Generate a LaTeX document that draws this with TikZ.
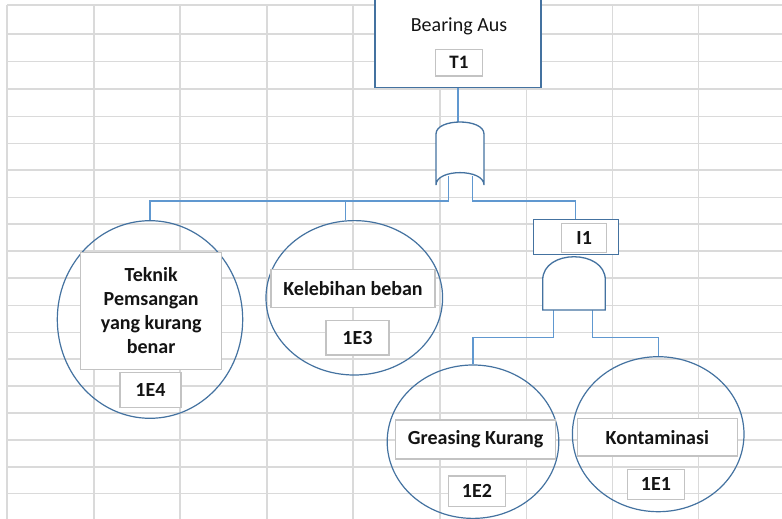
\documentclass[tikz,border=0pt]{standalone}
\usepackage{fontspec}
\setmainfont{Carlito}
\usetikzlibrary{shapes.geometric}
\definecolor{gridgray}{RGB}{218,218,218}
\definecolor{shapeblue}{RGB}{68,114,160}
\definecolor{wireblue}{RGB}{96,152,208}
\definecolor{boxgray}{RGB}{195,195,195}
\definecolor{ink}{RGB}{20,20,20}
\tikzset{
  gridline/.style={draw=gridgray, line width=1.6pt},
  event/.style={ellipse, draw=shapeblue, line width=1.2pt, inner sep=0pt},
  wire/.style={draw=wireblue, line width=1.3pt},
  frame/.style={rectangle, draw=shapeblue, line width=1.5pt, fill=white, inner sep=0pt},
  textbox/.style={rectangle, draw=boxgray, line width=1.3pt, fill=white, inner sep=0pt,
    align=center, text=ink, font=\bfseries\fontsize{20}{24}\selectfont},
  idbox/.style={rectangle, draw=boxgray, line width=1.3pt, fill=white, inner sep=0pt,
    text=ink, font=\bfseries\fontsize{20}{22}\selectfont},
  gate/.style={draw=shapeblue, line width=1.3pt, fill=white},
}
\begin{document}
\begin{tikzpicture}[x=1pt, y=-1pt]
\useasboundingbox (0,0) rectangle (782,519);
\fill[white] (0,0) rectangle (782,519);

% worksheet grid
\foreach \gx in {7,94,180,267,353,440,526.5,612.3,698.3}
  \draw[gridline] (\gx,5) -- (\gx,519);
\foreach \gy in {5,34.3,61.7,89,116.3,143.3,170,197.3,224,250.7,278,305.5,332.3,359,385.7,413,440,466.7,493.3}
  \draw[gridline] (7,\gy) -- (782,\gy);

% basic events
\node[event, minimum width=185.4pt, minimum height=197.6pt] (c4) at (150,319.5) {};
\node[event, minimum width=176.6pt, minimum height=154.4pt] (c3) at (354.3,297.8) {};
\node[event, minimum width=171.6pt, minimum height=153.4pt] (c2) at (473,441.7) {};
\node[event, minimum width=171.6pt, minimum height=155pt] (c1) at (658.2,434.2) {};

% top event
\node[frame, minimum width=165.7pt, minimum height=92pt] (top) at (458,41.3) {};
\node[text=ink, font=\fontsize{20}{22}\selectfont] (toptxt) at (459,26) {Bearing Aus};
\node[idbox, minimum width=46.6pt, minimum height=26.7pt, font=\bfseries\fontsize{19}{20}\selectfont] (t1) at (459,62.7) {T1};

% OR gate
\coordinate (or-top) at (458,122);
\coordinate (or-l) at (448.3,176);
\coordinate (or-r) at (472.7,176);
\coordinate (j1) at (448.3,201);
\coordinate (j2) at (472.7,201);
\coordinate (j3) at (345.7,201);

% intermediate event
\node[frame, minimum width=85pt, minimum height=35pt] (i1frame) at (575.8,236.8) {};

% AND gate
\coordinate (and-l) at (553.3,310);
\coordinate (and-r) at (592.3,310);
\coordinate (j4) at (553.3,337.5);
\coordinate (j5) at (592.3,337.5);

% connectors
\draw[wire] (top.south) -- (or-top);
\draw[wire] (or-l) -- (j1) -| (c4.north);
\draw[wire] (j3) -- (j3 |- c3.north);
\draw[wire] (or-r) -- (j2) -| (i1frame.north);
\draw[wire] (and-l) -- (j4) -| (c2.north);
\draw[wire] (and-r) -- (j5) -| (c1.north);

% gate bodies
\draw[gate] (436,134) .. controls (436,118) and (484,118) .. (484,134)
  -- (484,185) .. controls (484,168.5) and (436,168.5) .. (436,185) -- cycle;
\draw[gate] (542.7,310) -- (542.7,280)
  .. controls (542.7,249) and (605.3,249) .. (605.3,280) -- (605.3,310) -- cycle;

\node[idbox, minimum width=45pt, minimum height=29pt] (i1) at (584.2,237.8) {I1};

% event descriptions and identifiers
\node[textbox, minimum width=141pt, minimum height=116.6pt] (d4) at (151.2,311)
  {Teknik\\Pemsangan\\yang kurang\\benar};
\node[idbox, minimum width=61pt, minimum height=34.6pt] (e4) at (150.5,390) {1E4};
\node[textbox, minimum width=164pt, minimum height=38pt] (d3) at (353,288.3) {Kelebihan beban};
\node[idbox, minimum width=63pt, minimum height=34.3pt] (e3) at (357.5,337.8) {1E3};
\node[textbox, minimum width=160pt, minimum height=39pt] (d2) at (475.7,439.5) {Greasing Kurang};
\node[idbox, minimum width=57.4pt, minimum height=30.7pt] (e2) at (477,491.3) {1E2};
\node[textbox, minimum width=160pt, minimum height=37.7pt] (d1) at (657.3,437.2) {Kontaminasi};
\node[idbox, minimum width=56.6pt, minimum height=30pt] (e1) at (656,484.3) {1E1};
\end{tikzpicture}
\end{document}
